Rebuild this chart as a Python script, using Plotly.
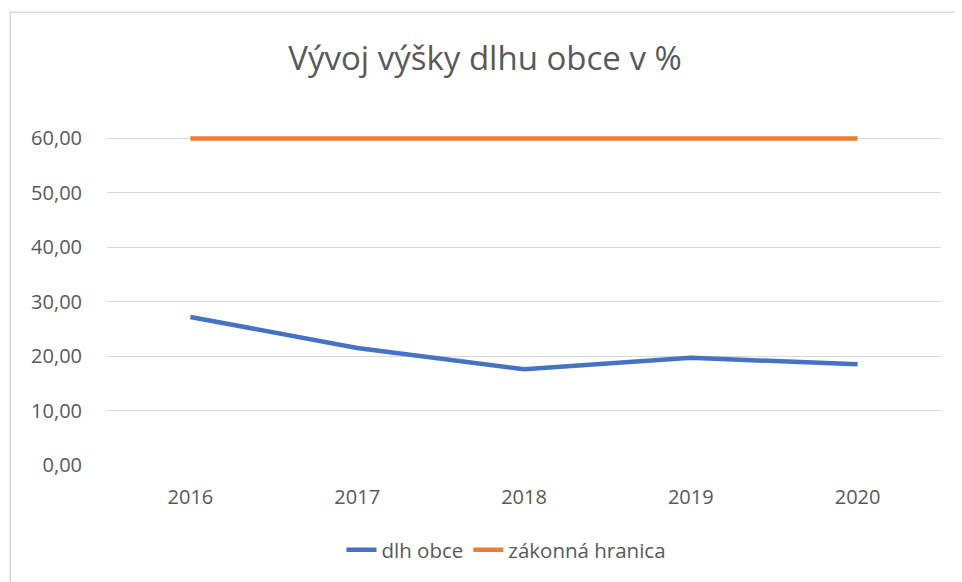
"""Vývoj výšky dlhu obce v % – line chart."""

import plotly.graph_objects as go

years = ["2016", "2017", "2018", "2019", "2020"]
dlh_obce = [27.2, 21.5, 17.6, 19.7, 18.5]
zakonna_hranica = [60.0, 60.0, 60.0, 60.0, 60.0]
y_ticks = [0, 10, 20, 30, 40, 50, 60]

FONT = "Open Sans"
TEXT_GRAY = "#595959"
GRID = "#d9d9d9"

fig = go.Figure()
fig.add_trace(
    go.Scatter(
        x=years,
        y=dlh_obce,
        name="dlh obce",
        mode="lines",
        line={"color": "#4472C4", "width": 4.5},
    )
)
fig.add_trace(
    go.Scatter(
        x=years,
        y=zakonna_hranica,
        name="zákonná hranica",
        mode="lines",
        line={"color": "#ED7D31", "width": 4.5},
    )
)

# page body adds an 8px offset, so the figure is a bit smaller
# y range goes a bit past 60 so the orange line isn't clipped at the top
fig.update_layout(
    width=954,
    height=574,
    autosize=False,
    separators=", ",
    paper_bgcolor="white",
    plot_bgcolor="white",
    font={"family": FONT, "color": TEXT_GRAY, "size": 20},
    margin={"l": 99, "r": 21, "t": 125, "b": 117},
    title={
        "text": "Vývoj výšky dlhu obce v %",
        "x": 0.5,
        "xanchor": "center",
        "y": 1 - 50 / 574,
        "yanchor": "middle",
        "font": {"family": FONT, "size": 33, "color": TEXT_GRAY},
    },
    xaxis={
        "type": "category",
        "range": [-0.5, 4.5],
        "showgrid": False,
        "zeroline": False,
        "showline": False,
        "ticks": "",
        "ticklabelstandoff": 18,
        "tickfont": {"size": 20},
    },
    yaxis={
        "range": [0, 61],
        "tickvals": y_ticks,
        "tickformat": ".2f",
        "showgrid": True,
        "gridcolor": GRID,
        "gridwidth": 1.3,
        "zeroline": False,
        "showline": False,
        "ticks": "",
        "ticklabelstandoff": 24,
        "tickfont": {"size": 20},
    },
    showlegend=True,
    legend={
        "orientation": "h",
        "x": 0.479,
        "xanchor": "center",
        "y": -0.256,
        "yanchor": "middle",
        "font": {"size": 20.5, "color": TEXT_GRAY},
    },
    shapes=[
        {
            "type": "rect",
            "xref": "paper",
            "yref": "paper",
            "x0": -0.116,
            "x1": 1.1,
            "y0": -0.5,
            "y1": 1.364,
            "line": {"color": "#d9d9d9", "width": 1.5},
            "fillcolor": "rgba(0,0,0,0)",
            "layer": "below",
        }
    ],
)

fig.write_html("out.html")
